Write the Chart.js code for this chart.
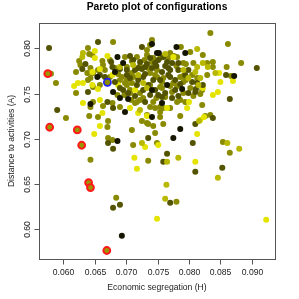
<!DOCTYPE html>
<html>
<head>
<meta charset="utf-8">
<script src="https://cdn.jsdelivr.net/npm/chart.js@4/dist/chart.umd.min.js"></script>
<style>
  body { margin: 0; background: #fff; }
  canvas { display: block; }
</style>
</head>
<body>
<canvas id="pareto" width="299" height="299"></canvas>
<script>
    // Configurations: [economic segregation H, distance to activities A]
    // grouped by the colour shade they carry in the plot (black -> yellow)
    const blackPts = [
        [0.0686, 0.7904], [0.0749, 0.7948], [0.0752, 0.7948], [0.0682, 0.7738], [0.0654, 0.7683],
        [0.0679, 0.7518], [0.0690, 0.7451], [0.0703, 0.7440], [0.0698, 0.7297], [0.0741, 0.7242],
        [0.0757, 0.7396], [0.0686, 0.6977], [0.0741, 0.8047], [0.0780, 0.8014], [0.0794, 0.7948],
        [0.0872, 0.7694], [0.0789, 0.7551], [0.0786, 0.7109], [0.0643, 0.7385], [0.0695, 0.7838],
        [0.0741, 0.7540], [0.0765, 0.7595], [0.0693, 0.5930], [0.0775, 0.7010]
    ];
    const darkPts = [
        [0.0655, 0.8070], [0.0725, 0.8014], [0.0706, 0.7915], [0.0676, 0.7849], [0.0630, 0.7772],
        [0.0635, 0.7827], [0.0678, 0.7794], [0.0690, 0.7772], [0.0666, 0.7683], [0.0658, 0.7705],
        [0.0690, 0.7562], [0.0746, 0.7540], [0.0670, 0.7407], [0.0679, 0.7341], [0.0757, 0.7462],
        [0.0671, 0.6955], [0.0735, 0.7010], [0.0590, 0.7319], [0.0908, 0.7783], [0.0859, 0.7705],
        [0.0783, 0.7838], [0.0799, 0.7760], [0.0813, 0.7617], [0.0822, 0.7595], [0.0810, 0.7518],
        [0.0865, 0.7440], [0.0810, 0.7164], [0.0806, 0.6955], [0.0765, 0.6834], [0.0759, 0.6746],
        [0.0810, 0.6636], [0.0853, 0.6680], [0.0770, 0.6293], [0.0679, 0.6889], [0.0690, 0.6271],
        [0.0679, 0.6238], [0.0773, 0.7451], [0.0838, 0.7231], [0.0719, 0.7783], [0.0730, 0.7794],
        [0.0741, 0.7783], [0.0682, 0.7628], [0.0701, 0.7705], [0.0727, 0.7683], [0.0717, 0.7595],
        [0.0735, 0.7595], [0.0695, 0.7540], [0.0738, 0.7893], [0.0746, 0.7838], [0.0759, 0.7904],
        [0.0765, 0.7849], [0.0767, 0.7783], [0.0770, 0.7683], [0.0805, 0.7628], [0.0778, 0.7540],
        [0.0811, 0.7551], [0.0730, 0.7407], [0.0577, 0.8003], [0.0639, 0.7518],
        [0.0711, 0.7871], [0.0722, 0.7849], [0.0733, 0.7827], [0.0751, 0.7871], [0.0762, 0.7805],
        [0.0773, 0.7838], [0.0783, 0.7760], [0.0794, 0.7705], [0.0778, 0.7650], [0.0767, 0.7705],
        [0.0754, 0.7650], [0.0743, 0.7650], [0.0730, 0.7716], [0.0719, 0.7650], [0.0706, 0.7672],
        [0.0701, 0.7760], [0.0714, 0.7760], [0.0725, 0.7772], [0.0748, 0.7805], [0.0757, 0.7738],
        [0.0770, 0.7760], [0.0786, 0.7606], [0.0799, 0.7507], [0.0762, 0.7507], [0.0751, 0.7485],
        [0.0738, 0.7485], [0.0727, 0.7540], [0.0714, 0.7474], [0.0703, 0.7507], [0.0783, 0.7474]
    ];
    const olivePts = [
        [0.0679, 0.8070], [0.0639, 0.8003], [0.0646, 0.7926], [0.0625, 0.7860], [0.0662, 0.7860],
        [0.0698, 0.7904], [0.0717, 0.7904], [0.0733, 0.7926], [0.0738, 0.8036], [0.0627, 0.7816],
        [0.0620, 0.7738], [0.0643, 0.7783], [0.0647, 0.7727], [0.0663, 0.7816], [0.0674, 0.7683],
        [0.0638, 0.7727], [0.0643, 0.7672], [0.0647, 0.7573], [0.0620, 0.7507], [0.0701, 0.7595],
        [0.0686, 0.7485], [0.0706, 0.7507], [0.0722, 0.7507], [0.0738, 0.7595], [0.0754, 0.7573],
        [0.0647, 0.7407], [0.0678, 0.7396], [0.0643, 0.7352], [0.0663, 0.7363], [0.0690, 0.7352],
        [0.0714, 0.7396], [0.0727, 0.7451], [0.0738, 0.7352], [0.0754, 0.7297], [0.0604, 0.7231],
        [0.0588, 0.7617], [0.0671, 0.7198], [0.0671, 0.7010], [0.0678, 0.6988], [0.0709, 0.7098],
        [0.0733, 0.7264], [0.0711, 0.6933], [0.0746, 0.7065], [0.0733, 0.7176], [0.0741, 0.8092],
        [0.0834, 0.8169], [0.0862, 0.8047], [0.0838, 0.7849], [0.0829, 0.7838], [0.0822, 0.7926],
        [0.0802, 0.7959], [0.0787, 0.8014], [0.0776, 0.7915], [0.0743, 0.7893], [0.0807, 0.7838],
        [0.0791, 0.7838], [0.0805, 0.7705], [0.0802, 0.7562], [0.0821, 0.7540], [0.0791, 0.7507],
        [0.0821, 0.7374], [0.0754, 0.7352], [0.0786, 0.7253], [0.0826, 0.7253], [0.0834, 0.7264],
        [0.0759, 0.7164], [0.0749, 0.6955], [0.0854, 0.6966], [0.0865, 0.6845], [0.0780, 0.6304],
        [0.0643, 0.6768], [0.0735, 0.6757], [0.0684, 0.6349], [0.0641, 0.7253], [0.0655, 0.7242],
        [0.0670, 0.7131], [0.0735, 0.7164], [0.0743, 0.7142], [0.0725, 0.7198], [0.0717, 0.7407],
        [0.0743, 0.7407], [0.0746, 0.7341], [0.0781, 0.7407], [0.0794, 0.7407], [0.0759, 0.7341],
        [0.0770, 0.7341], [0.0754, 0.7242], [0.0770, 0.7948], [0.0781, 0.7904], [0.0795, 0.7827],
        [0.0838, 0.7794], [0.0829, 0.7705], [0.0786, 0.7683], [0.0813, 0.7672], [0.0759, 0.7672],
        [0.0775, 0.7617], [0.0791, 0.7628], [0.0757, 0.7562], [0.0641, 0.7937], [0.0674, 0.7871],
        [0.0733, 0.7981], [0.0655, 0.7760], [0.0666, 0.7760], [0.0682, 0.7783], [0.0701, 0.7794],
        [0.0749, 0.7760], [0.0639, 0.7650], [0.0658, 0.7595], [0.0693, 0.7683], [0.0709, 0.7727],
        [0.0738, 0.7727], [0.0749, 0.7683], [0.0698, 0.7617], [0.0709, 0.7617], [0.0706, 0.7540],
        [0.0883, 0.7838], [0.0860, 0.7794], [0.0867, 0.7694], [0.0580, 0.7720],
        [0.0709, 0.7860], [0.0729, 0.7871], [0.0741, 0.7849], [0.0754, 0.7893], [0.0767, 0.7893],
        [0.0780, 0.7805], [0.0791, 0.7694], [0.0795, 0.7650], [0.0781, 0.7584], [0.0770, 0.7584],
        [0.0757, 0.7628], [0.0746, 0.7705], [0.0735, 0.7783], [0.0722, 0.7805], [0.0711, 0.7683],
        [0.0701, 0.7650], [0.0690, 0.7650], [0.0687, 0.7716], [0.0697, 0.7485], [0.0708, 0.7429],
        [0.0722, 0.7429], [0.0748, 0.7451], [0.0762, 0.7462], [0.0773, 0.7518], [0.0786, 0.7429],
        [0.0807, 0.7474], [0.0818, 0.7496]
    ];
    const lightPts = [
        [0.0631, 0.7948], [0.0630, 0.7904], [0.0813, 0.7992], [0.0762, 0.7937], [0.0822, 0.7838],
        [0.0813, 0.7794], [0.0842, 0.7727], [0.0799, 0.7672], [0.0818, 0.7672], [0.0690, 0.7794],
        [0.0711, 0.7816], [0.0719, 0.7705], [0.0727, 0.7617], [0.0846, 0.6570], [0.0783, 0.6790],
        [0.0765, 0.6746], [0.0764, 0.6492], [0.0762, 0.6338], [0.0880, 0.6889], [0.0861, 0.6955],
        [0.0725, 0.6955], [0.0816, 0.7198], [0.0733, 0.7562], [0.0722, 0.7319], [0.0815, 0.7595],
        [0.0810, 0.7738], [0.0791, 0.7760], [0.0830, 0.7794]
    ];
    const yellowPts = [
        [0.0650, 0.7893], [0.0650, 0.7970], [0.0670, 0.7915], [0.0658, 0.7772], [0.0631, 0.7617],
        [0.0623, 0.7617], [0.0617, 0.7584], [0.0655, 0.7551], [0.0658, 0.7429], [0.0631, 0.7396],
        [0.0662, 0.7286], [0.0714, 0.7540], [0.0706, 0.7341], [0.0765, 0.7341], [0.0649, 0.7054],
        [0.0730, 0.6911], [0.0751, 0.6933], [0.0717, 0.6669], [0.0713, 0.6790], [0.0749, 0.6117],
        [0.0923, 0.6106], [0.0810, 0.6746], [0.0848, 0.7727], [0.0850, 0.7628], [0.0870, 0.7639],
        [0.0838, 0.7485], [0.0846, 0.7518], [0.0797, 0.7341], [0.0818, 0.7209], [0.0824, 0.7242],
        [0.0813, 0.7054], [0.0800, 0.7407], [0.0719, 0.7286], [0.0733, 0.7253], [0.0646, 0.7738],
        [0.0646, 0.7595], [0.0678, 0.7705], [0.0687, 0.7595], [0.0658, 0.7142], [0.0775, 0.7904],
        [0.0822, 0.7562]
    ];
    // Pareto-optimal configurations (red rings) and the chosen one (blue ring)
    const paretoPts = [
        [0.0575, 0.7720], [0.0578, 0.7128], [0.0622, 0.7098], [0.0629, 0.6929],
        [0.0640, 0.6517], [0.0643, 0.6461], [0.0669, 0.5766]
    ];
    const chosenPts = [[0.0670, 0.7625]];

    const xTicks = [0.060, 0.065, 0.070, 0.075, 0.080, 0.085, 0.090];
    const xTickLabels = ['0.060', '0.065', '0.070', '0.075', '0.080', '0.085', '0.090'];
    const yTicks = [0.60, 0.65, 0.70, 0.75, 0.80];
    const yTickLabels = ['0.60', '0.65', '0.70', '0.75', '0.80'];

    const FONT = '"Liberation Sans", Arial, Helvetica, sans-serif';

    function toXY(pts) {
        return pts.map(p => ({ x: p[0], y: p[1] }));
    }

    function dots(label, pts, color) {
        return {
            label: label,
            data: toXY(pts),
            backgroundColor: color,
            borderWidth: 0,
            pointRadius: 3.0
        };
    }

    // base-R style box, ticks and labels
    const rAxes = {
        id: 'rAxes',
        afterDraw(chart) {
            const { ctx, chartArea: a, scales } = chart;
            const left = Math.round(a.left) + 0.5;
            const top = Math.round(a.top) + 0.5;
            const right = Math.round(a.right) + 0.5;
            const bottom = Math.round(a.bottom) + 0.5;
            ctx.save();
            ctx.strokeStyle = '#555';
            ctx.lineWidth = 1;
            ctx.strokeRect(left, top, right - left, bottom - top);

            ctx.fillStyle = '#222';
            ctx.font = '8.6px ' + FONT;
            ctx.textAlign = 'center';
            ctx.textBaseline = 'middle';

            xTicks.forEach((v, i) => {
                const px = Math.round(scales.x.getPixelForValue(v)) + 0.5;
                ctx.beginPath();
                ctx.moveTo(px, bottom);
                ctx.lineTo(px, bottom + 5);
                ctx.stroke();
                ctx.fillText(xTickLabels[i], px, bottom + 13);
            });

            yTicks.forEach((v, i) => {
                const py = Math.round(scales.y.getPixelForValue(v)) + 0.5;
                ctx.beginPath();
                ctx.moveTo(left, py);
                ctx.lineTo(left - 5, py);
                ctx.stroke();
                ctx.save();
                ctx.translate(left - 11.5, py);
                ctx.rotate(-Math.PI / 2);
                ctx.fillText(yTickLabels[i], 0, 0);
                ctx.restore();
            });

            const midX = (a.left + a.right) / 2;
            const midY = (a.top + a.bottom) / 2;
            ctx.fillText('Economic segregation (H)', midX, bottom + 28);
            ctx.save();
            ctx.translate(12, midY);
            ctx.rotate(-Math.PI / 2);
            ctx.fillText('Distance to activities (A)', 0, 0);
            ctx.restore();

            ctx.fillStyle = '#000';
            ctx.font = 'bold 10.3px ' + FONT;
            ctx.textBaseline = 'alphabetic';
            ctx.fillText('Pareto plot of configurations', midX, 9.5);
            ctx.restore();
        }
    };

    const ctx = document.getElementById('pareto').getContext('2d');
    new Chart(ctx, {
        type: 'scatter',
        data: {
            datasets: [
                {
                    label: 'Pareto front',
                    data: toXY(paretoPts),
                    backgroundColor: '#9a9600',
                    borderColor: '#ff1a1a',
                    borderWidth: 2,
                    pointRadius: 3.4
                },
                {
                    label: 'Chosen',
                    data: toXY(chosenPts),
                    backgroundColor: '#8a8a00',
                    borderColor: '#1a1aff',
                    borderWidth: 1.6,
                    pointRadius: 3.6
                },
                dots('black', blackPts, '#151500'),
                dots('light', lightPts, '#b8b800'),
                dots('dark', darkPts, '#535300'),
                dots('yellow', yellowPts, '#e4e400'),
                dots('olive', olivePts, '#8a8a00')
            ]
        },
        options: {
            responsive: false,
            animation: false,
            devicePixelRatio: 1,
            layout: { padding: { left: 39, top: 23, right: 24, bottom: 40 } },
            scales: {
                x: { type: 'linear', display: false, min: 0.0561, max: 0.0937 },
                y: { type: 'linear', display: false, min: 0.5672, max: 0.828 }
            },
            plugins: {
                legend: { display: false },
                tooltip: { enabled: false }
            },
            elements: { point: { hoverRadius: 3.0 } }
        },
        plugins: [rAxes]
    });
</script>
</body>
</html>
